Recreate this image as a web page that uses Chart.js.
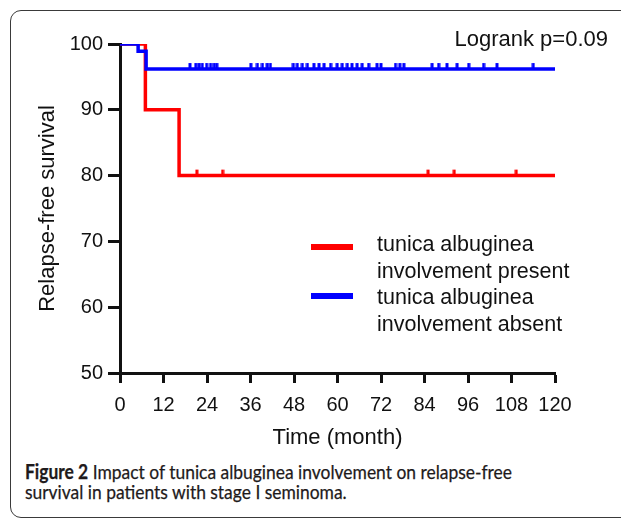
<!DOCTYPE html>
<html>
<head>
<meta charset="utf-8">
<script src="https://cdn.jsdelivr.net/npm/chart.js@4.4.1/dist/chart.umd.min.js"></script>
<style>
  html, body { margin: 0; padding: 0; background: #fff; overflow: hidden; width: 621px; height: 519px; }
  #frame {
    position: absolute; left: 10px; top: 10px; width: 700px; height: 506px;
    border: 1.5px solid #3a3a3a; border-radius: 11px;
  }
  #wrap { position: absolute; left: 0; top: 0; width: 621px; height: 451px; }
  #caption {
    position: absolute; left: 25px; top: 461px; white-space: nowrap;
    font-family: Lato, "Open Sans", sans-serif; font-size: 20px; line-height: 20px;
    color: #1e1a1b; transform-origin: 0 0; -webkit-text-stroke: 0.25px #1e1a1b;
  }
  #caption b { font-weight: 700; }
</style>
</head>
<body>
<div id="frame"></div>
<div id="wrap"><canvas id="km" width="621" height="451"></canvas></div>
<div id="caption">
  <div id="cap1"><b>Figure 2</b> Impact of tunica albuginea involvement on relapse-free</div>
  <div>survival in patients with stage I seminoma.</div>
</div>
<script>
// step curves (time in months, survival in %)
const presentTimes = [0, 7, 16.3, 120];
const presentSurv = [100, 90, 80, 80];
const absentTimes = [0, 5, 7.2, 120];
const absentSurv = [100, 98.9, 96.2, 96.2];

// censored observations
const presentCensor = [21.2, 28.3, 85, 92.2, 109.3];
const absentCensor = [19.3, 20.9, 21.8, 22.7, 23.9, 25.0, 26.0, 26.7, 36.1, 37.9, 39.3, 40.6, 41.5,
  47.8, 48.9, 50.3, 51.7, 53.5, 54.9, 56.3, 58.1, 59.9, 61.3, 62.7, 64.0, 65.4, 66.8, 68.6,
  70.9, 72.0, 76.0, 77.2, 78.3, 86.1, 87.9, 90.2, 93.0, 96.2, 100.3, 104.0, 114.0];

const xTicks = [0, 12, 24, 36, 48, 60, 72, 84, 96, 108, 120];
const yTicks = [50, 60, 70, 80, 90, 100];

const legendLabels = [
  ["tunica albuginea", "involvement present"],
  ["tunica albuginea", "involvement absent"],
];
const logrankText = "Logrank p=0.09";

const RED = "#ff0000";
const BLUE = "#0000ff";

function survAt(times, surv, t) {
  let v = surv[0];
  for (let i = 0; i < times.length; i++) {
    if (times[i] <= t) v = surv[i];
  }
  return v;
}

function tickMark(color) {
  const c = document.createElement("canvas");
  c.width = 4;
  c.height = 16;
  const g = c.getContext("2d");
  g.fillStyle = color;
  g.fillRect(0.5, 2, 3, 6);
  return c;
}

const pts = (times, surv) => times.map((t, i) => ({ x: t, y: surv[i] }));
const censorPts = (list, times, surv) => list.map((t) => ({ x: t, y: survAt(times, surv, t) }));

const TEXT_FONT = "'Liberation Sans', Arial, sans-serif";

const overlay = {
  id: "overlay",
  afterDraw(chart) {
    const ctx = chart.ctx;
    ctx.save();
    ctx.fillStyle = "#111";
    ctx.font = "22px " + TEXT_FONT;
    ctx.textAlign = "right";
    ctx.textBaseline = "middle";
    ctx.fillText(logrankText, 608, 40);

    const colors = [RED, BLUE];
    const rows = [247, 296];
    ctx.textAlign = "left";
    ctx.font = "21.5px " + TEXT_FONT;
    legendLabels.forEach((lines, i) => {
      ctx.fillStyle = colors[i];
      ctx.fillRect(311, rows[i] - 3, 42, 6);
      ctx.fillStyle = "#111";
      lines.forEach((s, j) => ctx.fillText(s, 377, 245 + (i * 2 + j) * 26.7));
    });
    ctx.restore();
  },
};

new Chart(document.getElementById("km"), {
  type: "line",
  data: {
    datasets: [
      {
        label: legendLabels[1].join(" "),
        data: pts(absentTimes, absentSurv),
        borderColor: BLUE,
        borderWidth: 3.5,
        stepped: true,
        pointRadius: 0,
        order: 0,
      },
      {
        label: legendLabels[0].join(" "),
        data: pts(presentTimes, presentSurv),
        borderColor: RED,
        borderWidth: 3.5,
        stepped: true,
        pointRadius: 0,
        order: 1,
      },
      {
        label: "absent censored",
        data: censorPts(absentCensor, absentTimes, absentSurv),
        showLine: false,
        pointStyle: tickMark(BLUE),
        pointRadius: 3,
        order: 0,
      },
      {
        label: "present censored",
        data: censorPts(presentCensor, presentTimes, presentSurv),
        showLine: false,
        pointStyle: tickMark(RED),
        pointRadius: 3,
        order: 1,
      },
    ],
  },
  options: {
    responsive: false,
    animation: false,
    layout: { padding: { top: 44, right: 66, left: 0, bottom: 0 } },
    plugins: { legend: { display: false }, tooltip: { enabled: false } },
    scales: {
      x: {
        type: "linear",
        min: 0,
        max: 120,
        afterBuildTicks: (s) => { s.ticks = xTicks.map((v) => ({ value: v })); },
        afterFit: (s) => { s.height = 78; },
        grid: { drawOnChartArea: false, tickLength: 10, tickWidth: 3, tickColor: "#111" },
        border: { color: "#111", width: 3 },
        ticks: { color: "#111", font: { family: TEXT_FONT, size: 20 }, padding: 10, maxRotation: 0 },
        title: { display: true, text: "Time (month)", color: "#111", font: { family: TEXT_FONT, size: 22 }, padding: { top: 0, bottom: 0 } },
      },
      y: {
        min: 50,
        max: 100,
        afterBuildTicks: (s) => { s.ticks = yTicks.map((v) => ({ value: v })); },
        afterFit: (s) => { s.width = 120; },
        grid: { drawOnChartArea: false, tickLength: 12, tickWidth: 3, tickColor: "#111" },
        border: { color: "#111", width: 3 },
        ticks: { color: "#111", font: { family: TEXT_FONT, size: 20 }, padding: 5 },
        title: { display: true, text: "Relapse-free survival", color: "#111", font: { family: TEXT_FONT, size: 22 }, padding: { top: 35, bottom: 0 } },
      },
    },
  },
  plugins: [overlay],
});

// fit caption to the printed line width
const cap = document.getElementById("caption");
const w = document.getElementById("cap1").getBoundingClientRect().width;
cap.style.transform = "scaleX(" + (487 / w) + ")";
</script>
</body>
</html>
